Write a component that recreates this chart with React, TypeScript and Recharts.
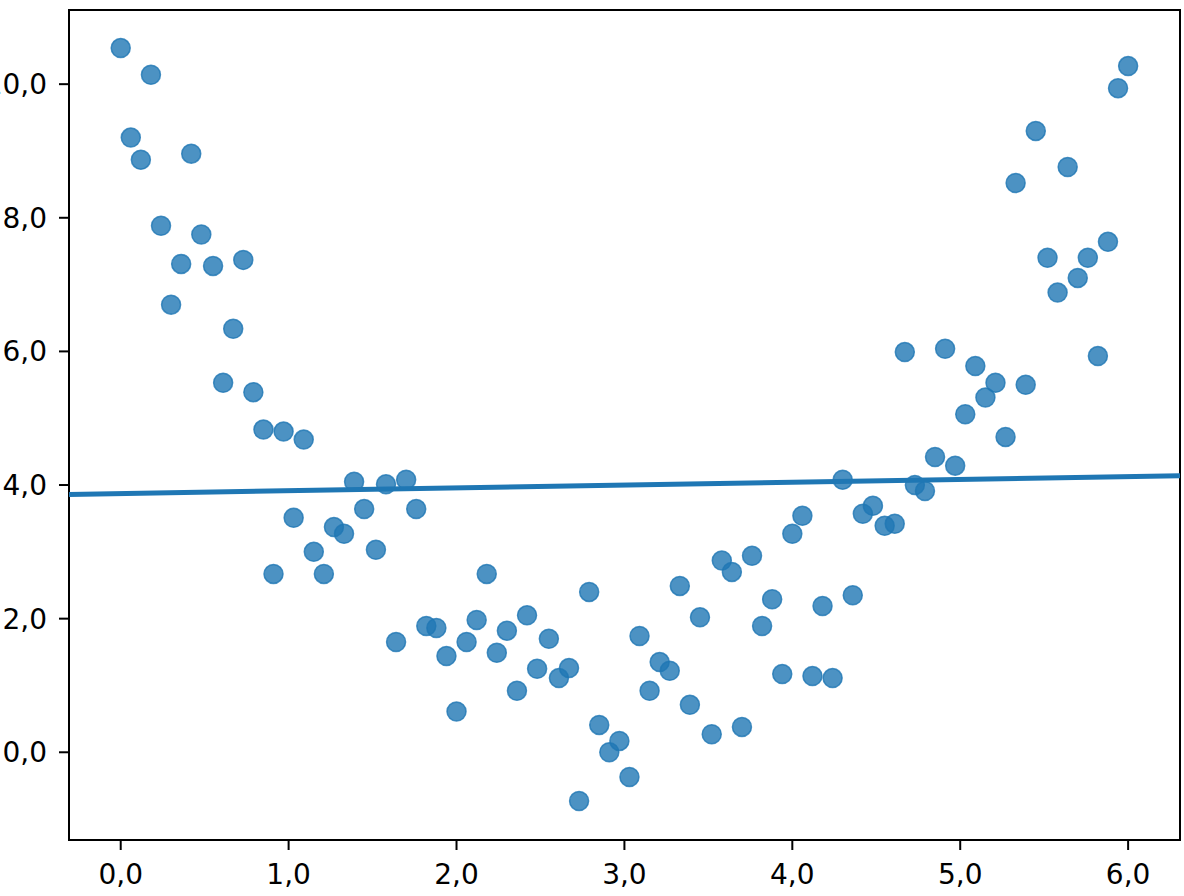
import { ScatterChart, Scatter, XAxis, YAxis, ReferenceArea } from "recharts";

const xValues = [
  0.0, 0.06, 0.12, 0.18, 0.24, 0.3, 0.36, 0.42, 0.48, 0.55,
  0.61, 0.67, 0.73, 0.79, 0.85, 0.91, 0.97, 1.03, 1.09, 1.15,
  1.21, 1.27, 1.33, 1.39, 1.45, 1.52, 1.58, 1.64, 1.7, 1.76,
  1.82, 1.88, 1.94, 2.0, 2.06, 2.12, 2.18, 2.24, 2.3, 2.36,
  2.42, 2.48, 2.55, 2.61, 2.67, 2.73, 2.79, 2.85, 2.91, 2.97,
  3.03, 3.09, 3.15, 3.21, 3.27, 3.33, 3.39, 3.45, 3.52, 3.58,
  3.64, 3.7, 3.76, 3.82, 3.88, 3.94, 4.0, 4.06, 4.12, 4.18,
  4.24, 4.3, 4.36, 4.42, 4.48, 4.55, 4.61, 4.67, 4.73, 4.79,
  4.85, 4.91, 4.97, 5.03, 5.09, 5.15, 5.21, 5.27, 5.33, 5.39,
  5.45, 5.52, 5.58, 5.64, 5.7, 5.76, 5.82, 5.88, 5.94, 6.0,
];

const yValues = [
  10.54, 9.2, 8.87, 10.14, 7.88, 6.7, 7.31, 8.96, 7.75, 7.28,
  5.53, 6.34, 7.37, 5.39, 4.83, 2.67, 4.8, 3.51, 4.68, 3.0,
  2.67, 3.37, 3.27, 4.05, 3.64, 3.03, 4.01, 1.65, 4.08, 3.64,
  1.89, 1.86, 1.44, 0.61, 1.65, 1.98, 2.67, 1.49, 1.82, 0.92,
  2.05, 1.25, 1.7, 1.11, 1.26, -0.73, 2.4, 0.41, 0.0, 0.17,
  -0.37, 1.74, 0.92, 1.35, 1.22, 2.49, 0.71, 2.02, 0.27, 2.87,
  2.7, 0.38, 2.94, 1.89, 2.29, 1.17, 3.27, 3.54, 1.14, 2.19,
  1.11, 4.08, 2.35, 3.57, 3.69, 3.39, 3.42, 5.99, 4.0, 3.91,
  4.42, 6.04, 4.29, 5.06, 5.78, 5.31, 5.53, 4.72, 8.52, 5.5,
  9.3, 7.4, 6.88, 8.76, 7.1, 7.4, 5.93, 7.64, 9.94, 10.27,
];

// fitted line, drawn across the whole axis range
const fitX = [-0.308, 6.309];
const fitY = [3.86, 4.14];

const xTicks = [0, 1, 2, 3, 4, 5, 6];
const yTicks = [0, 2, 4, 6, 8, 10];

const X_DOMAIN: [number, number] = [-0.308, 6.309];
const Y_DOMAIN: [number, number] = [-1.313, 11.11];

const BLUE = "#1f77b4";
const FONT = "DejaVu Sans, sans-serif";

const points = xValues.map((x, i) => ({ x, y: yValues[i] }));
const fitLine = fitX.map((x, i) => ({ x, y: fitY[i] }));

const fmt = (v: number) => v.toFixed(1).replace(".", ",");

const Dot = (props: any) => (
  <circle
    cx={props.cx}
    cy={props.cy}
    r={9.5}
    fill={BLUE}
    fillOpacity={0.8}
    stroke={BLUE}
    strokeOpacity={0.8}
    strokeWidth={1.5}
  />
);

export default function App() {
  return (
    <div style={{ position: "absolute", left: 0, top: 0, background: "#fff" }}>
      <ScatterChart
        width={1184}
        height={896}
        margin={{ top: 10, right: 4, bottom: 0, left: 0 }}
      >
        <XAxis
          type="number"
          dataKey="x"
          domain={X_DOMAIN}
          ticks={xTicks}
          tickFormatter={fmt}
          allowDataOverflow
          height={56}
          tickSize={10}
          tickMargin={14}
          stroke="#000"
          strokeWidth={2}
          tick={{ fontSize: 28, fill: "#000", fontFamily: FONT }}
        />
        <YAxis
          type="number"
          dataKey="y"
          domain={Y_DOMAIN}
          ticks={yTicks}
          tickFormatter={fmt}
          allowDataOverflow
          width={69}
          tickSize={10}
          tickMargin={12}
          stroke="#000"
          strokeWidth={2}
          tick={{ fontSize: 28, fill: "#000", fontFamily: FONT }}
        />
        {/* box around the plot (top + right spines) */}
        <ReferenceArea
          x1={X_DOMAIN[0]}
          x2={X_DOMAIN[1]}
          y1={Y_DOMAIN[0]}
          y2={Y_DOMAIN[1]}
          ifOverflow="visible"
          fill="none"
          fillOpacity={0}
          stroke="#000"
          strokeWidth={2}
        />
        <Scatter data={points} shape={Dot} isAnimationActive={false} />
        <Scatter
          data={fitLine}
          line={{ stroke: BLUE, strokeWidth: 5 }}
          lineType="joint"
          shape={() => null}
          isAnimationActive={false}
        />
      </ScatterChart>
    </div>
  );
}
